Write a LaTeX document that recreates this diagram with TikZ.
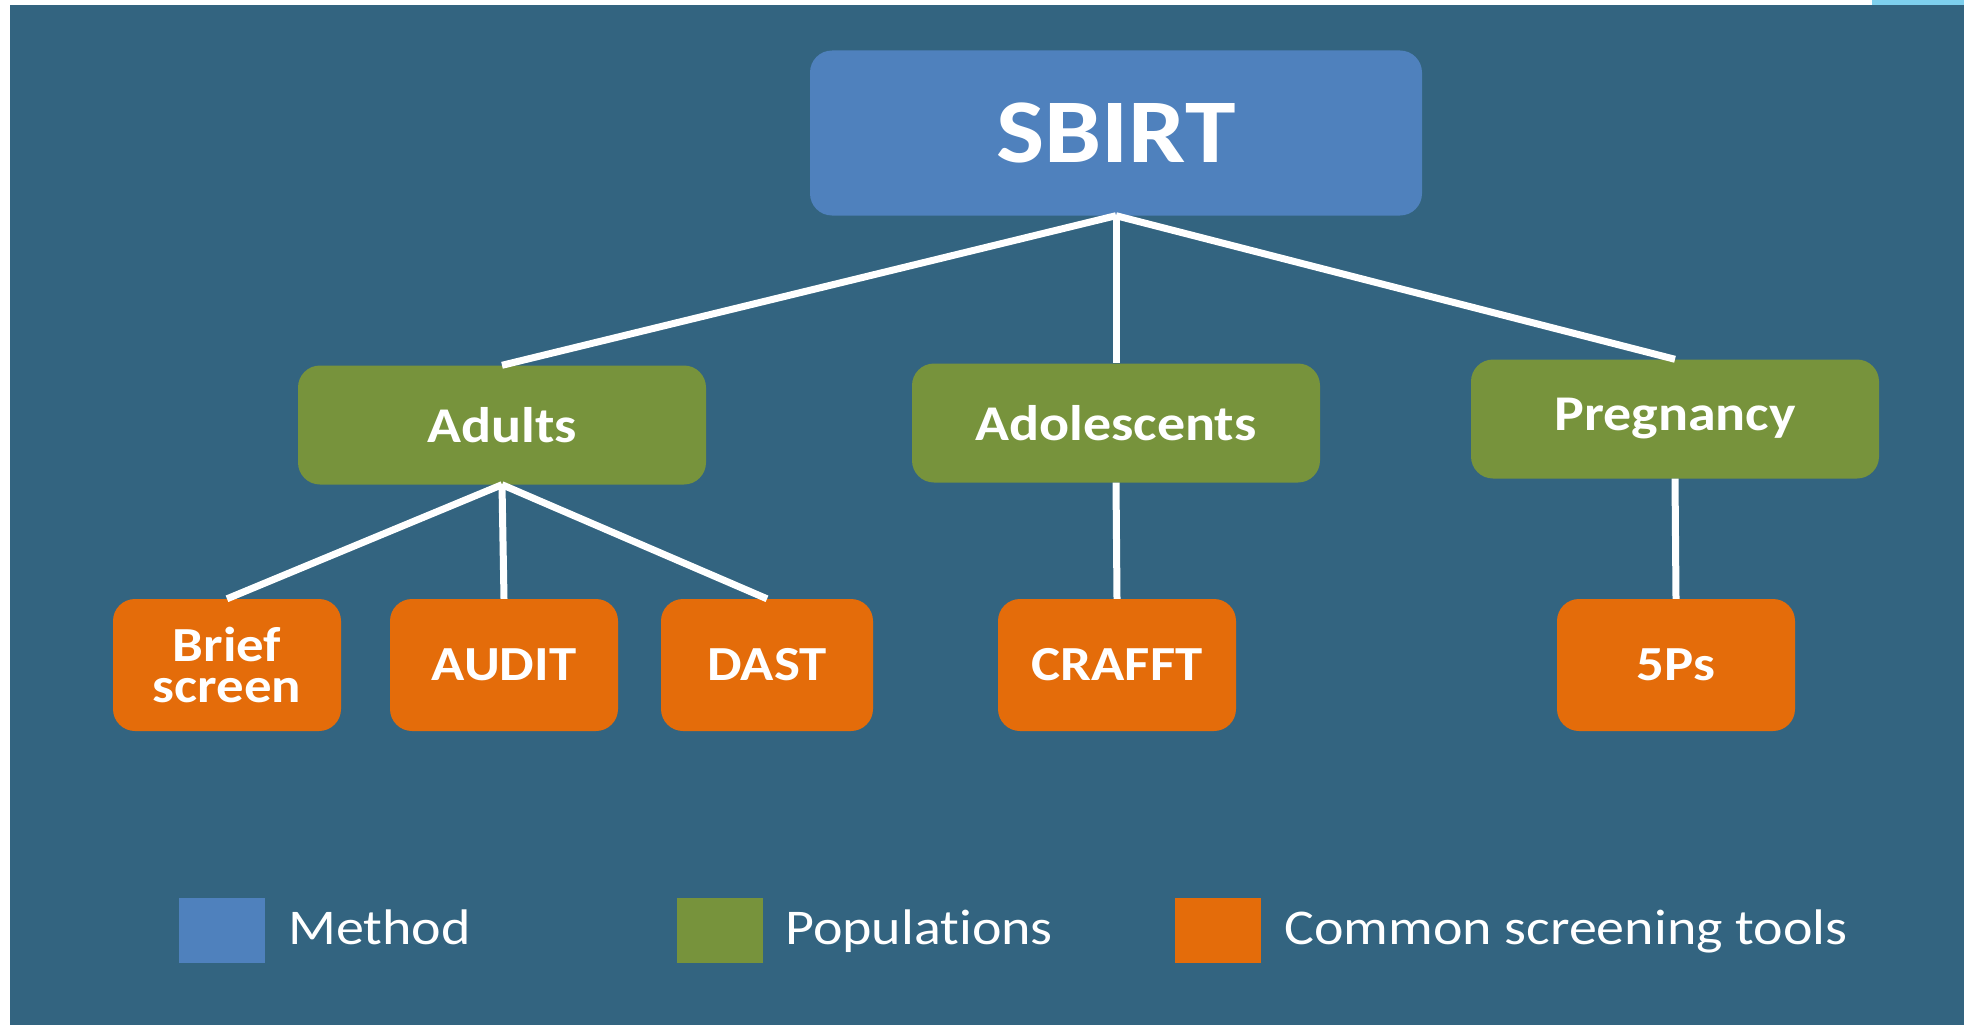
\documentclass[tikz,border=0pt]{standalone}
\usepackage{fontspec}
\setmainfont[FakeStretch=1.12,Ligatures=NoCommon]{Carlito}
\definecolor{bgc}{HTML}{336480}
\definecolor{methodc}{HTML}{4F81BD}
\definecolor{popc}{HTML}{77933C}
\definecolor{toolc}{HTML}{E46C0A}
\definecolor{lightb}{HTML}{7ED0EE}
\begin{document}
\begin{tikzpicture}[x=1pt,y=-1pt,
  box/.style={rounded corners=22pt,text=white,inner sep=0pt,align=center,font=\bfseries},
  methodbox/.style={box,fill=methodc,minimum width=612pt,minimum height=165pt,font=\bfseries\fontsize{91}{95}\selectfont},
  popbox/.style={box,fill=popc,minimum width=408pt,minimum height=119pt,font=\bfseries\fontsize{50}{52}\selectfont},
  toolbox/.style={box,fill=toolc,minimum height=132pt,font=\bfseries\fontsize{49}{41}\selectfont},
  link/.style={draw=white,line width=7pt},
  legsq/.style={minimum width=86pt,minimum height=65pt,inner sep=0pt},
  legtxt/.style={anchor=base west,text=white,inner sep=0pt,font=\fontsize{50}{52}\selectfont}]
\useasboundingbox (0,0) rectangle (1964,1025);
\fill[white] (0,0) rectangle (1964,1025);
\fill[bgc] (10,5) rectangle (1964,1025);
\fill[lightb] (1872,0) rectangle (1964,5);
% nodes
\node[methodbox] (sbirt) at (1116,133) {SBIRT};
\node[popbox] (adults) at (502,425) {Adults};
\node[popbox] (adol) at (1116,423) {Adolescents};
\node[popbox] (preg) at (1675,419) {Pregnancy};
\node[toolbox,minimum width=228pt] (brief) at (227,665) {Brief\\screen};
\node[toolbox,minimum width=228pt] (audit) at (504,665) {AUDIT};
\node[toolbox,minimum width=212pt] (dast) at (767,665) {DAST};
\node[toolbox,minimum width=238pt] (crafft) at (1117,665) {CRAFFT};
\node[toolbox,minimum width=238pt] (fiveps) at (1676,665) {5Ps};
% connectors
\draw[link] (sbirt.south) -- (adults.north);
\draw[link] (sbirt.south) -- (adol.north);
\draw[link] (sbirt.south) -- (preg.north);
\draw[link] (adults.south) -- (brief.north);
\draw[link] (adults.south) -- (audit.north);
\draw[link] (adults.south) -- (dast.north);
\draw[link] (adol.south) -- (crafft.north);
\draw[link] (preg.south) -- (fiveps.north);
% legend
\node[legsq,fill=methodc] (lm) at (222,930) {};
\node[legtxt] (lmt) at (288,944) {Method};
\node[legsq,fill=popc] (lp) at (720,930) {};
\node[legtxt] (lpt) at (785,944) {Populations};
\node[legsq,fill=toolc] (lt) at (1218,930) {};
\node[legtxt] (ltt) at (1284,944) {Common screening tools};
\end{tikzpicture}
\end{document}
